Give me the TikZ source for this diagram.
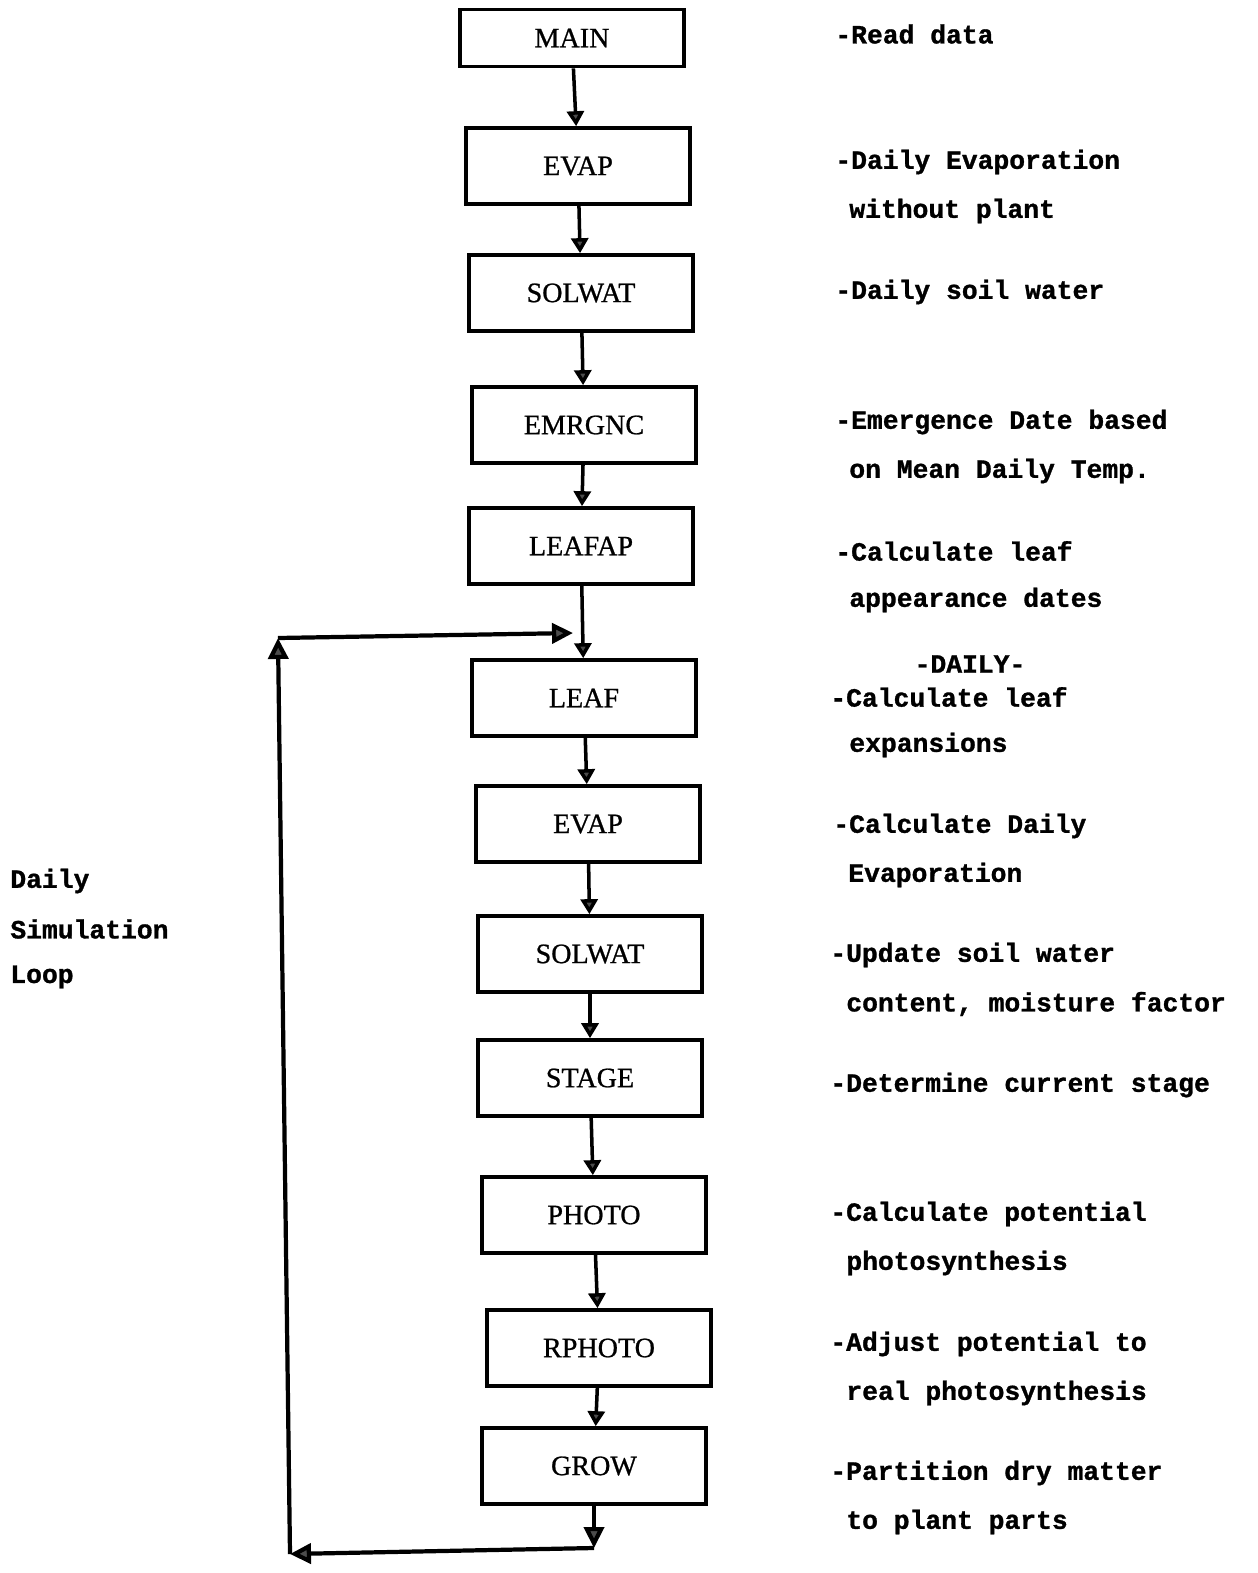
\documentclass[tikz,border=0pt]{standalone}
\usepackage{fontspec}
\setmainfont{Liberation Serif}[FakeBold=0.8]
\setmonofont{Liberation Mono}[FakeBold=1.1]
\usetikzlibrary{arrows.meta}
\begin{document}
\begin{tikzpicture}[x=0.02cm,y=-0.02cm,
  prog/.style={draw,line width=2.1pt,minimum width=4.48cm,minimum height=1.52cm,
    inner sep=0pt,font=\fontsize{16}{19}\selectfont},
  note/.style={anchor=west,inner sep=0pt,font=\fontsize{15}{18}\selectfont\ttfamily\bfseries},
  flow/.style={line width=2pt,-{Triangle[length=0.3cm,width=0.34cm,fill=gray!60!black]}},
  loop/.style={line width=2.4pt,-{Triangle[length=0.42cm,width=0.4cm,fill=gray!60!black]}}]
\useasboundingbox (0,0) rectangle (1258,1573);

\node[prog,minimum height=1.14cm] (main) at (572,38) {MAIN};
\node[prog] (evap1) at (578,166) {EVAP};
\node[prog] (solwat1) at (581,293) {SOLWAT};
\node[prog] (emrgnc) at (584,425) {EMRGNC};
\node[prog] (leafap) at (581,546) {LEAFAP};
\node[prog] (leaf) at (584,698) {LEAF};
\node[prog] (evap2) at (588,824) {EVAP};
\node[prog] (solwat2) at (590,954) {SOLWAT};
\node[prog] (stage) at (590,1078) {STAGE};
\node[prog] (photo) at (594,1215) {PHOTO};
\node[prog] (rphoto) at (599,1348) {RPHOTO};
\node[prog] (grow) at (594,1466) {GROW};

\node[note] (n1) at (835,34) {-Read data};
\node[note] (n2) at (835,162) {-Daily Evaporation};
\node[note] (n2b) at (849,211) {without plant};
\node[note] (n3) at (835,292) {-Daily soil water};
\node[note] (n4) at (835,422) {-Emergence Date based};
\node[note] (n4b) at (849,471) {on Mean Daily Temp.};
\node[note] (n5) at (835,551) {-Calculate leaf};
\node[note] (n5b) at (849,600) {appearance dates};
\node[note,anchor=center] (daily) at (970,664) {-DAILY-};
\node[note] (n6) at (830,697) {-Calculate leaf};
\node[note] (n6b) at (849,745) {expansions};
\node[note] (n7) at (833,826) {-Calculate Daily};
\node[note] (n7b) at (848,875) {Evaporation};
\node[note] (n8) at (830,955) {-Update soil water};
\node[note] (n8b) at (846,1004) {content, moisture factor};
\node[note] (n9) at (830,1085) {-Determine current stage};
\node[note] (n10) at (830,1214) {-Calculate potential};
\node[note] (n10b) at (846,1263) {photosynthesis};
\node[note] (n11) at (830,1344) {-Adjust potential to};
\node[note] (n11b) at (846,1393) {real photosynthesis};
\node[note] (n12) at (830,1473) {-Partition dry matter};
\node[note] (n12b) at (846,1522) {to plant parts};

\node[note] (l1) at (10,881) {Daily};
\node[note] (l2) at (10,929) {Simulation};
\node[note] (l3) at (10,977) {Loop};

\path[draw,flow] (main) -- (evap1);
\path[draw,flow] (evap1) -- (solwat1);
\path[draw,flow] (solwat1) -- (emrgnc);
\path[draw,flow] (emrgnc) -- (leafap);
\path[draw,flow] (leafap) -- (leaf);
\path[draw,flow] (leaf) -- (evap2);
\path[draw,flow] (evap2) -- (solwat2);
\path[draw,flow] (solwat2) -- (stage);
\path[draw,flow] (stage) -- (photo);
\path[draw,flow] (photo) -- (rphoto);
\path[draw,flow] (rphoto) -- (grow);

% daily loop back
\coordinate (growout) at (594,1548);
\coordinate (loopbl) at (290,1554);
\coordinate (looptl) at (278,638);
\coordinate (loopin) at (573,633);
\path[draw,loop] (grow) -- (growout);
\path[draw,loop] (growout) -- (loopbl);
\path[draw,loop] (loopbl) -- (looptl);
\path[draw,loop] (looptl) -- (loopin);
\end{tikzpicture}
\end{document}
